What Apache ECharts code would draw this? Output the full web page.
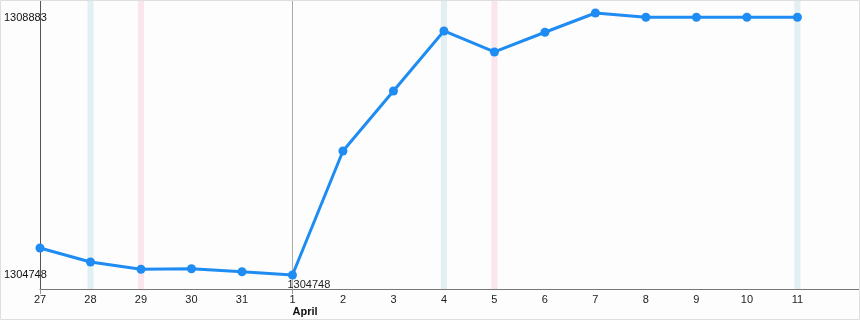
<!DOCTYPE html>
<html>
<head>
<meta charset="utf-8">
<script src="https://cdn.jsdelivr.net/npm/echarts@6/dist/echarts.min.js"></script>
<style>
html,body{margin:0;padding:0;background:#fcfdfc;}
#c{width:860px;height:320px;}
</style>
</head>
<body>
<div id="c"></div>
<script>
const categories = ['27','28','29','30','31','1','2','3','4','5','6','7','8','9','10','11'];
const values = [1305174,1304953,1304838,1304847,1304800,1304748,1306705,1307652,1308599,1308268,1308579,1308883,1308815,1308815,1308815,1308815];
const yTickLabels = [1304748, 1308883];
const monthLabel = 'April';
const monthIndex = 5;
const blueBands = [1, 8, 15];
const pinkBands = [2, 9];

const font = 'Liberation Sans, Arial, sans-serif';
const minIdx = values.indexOf(Math.min(...values));
const seriesData = values.map((v, i) => {
  if (i === minIdx) {
    return {value: [i, v], label: {show: true, position: 'bottom', align: 'left', offset: [-5, -5], formatter: String(v), color: '#222', fontSize: 11, fontFamily: font}};
  }
  return [i, v];
});

const bw = 0.06;
const areas = [];
blueBands.forEach(i => areas.push([{xAxis: i - bw, itemStyle: {color: '#e2f0f4'}}, {xAxis: i + bw}]));
pinkBands.forEach(i => areas.push([{xAxis: i - bw, itemStyle: {color: '#fbe5ef'}}, {xAxis: i + bw}]));

const chart = echarts.init(document.getElementById('c'));
chart.setOption({
  animation: false,
  backgroundColor: '#fcfdfc',
  grid: {left: 40, right: 0, top: 0, bottom: 31, outerBoundsMode: 'none', containLabel: false, show: false},
  xAxis: [{
    type: 'value', min: 0, max: 16.24, interval: 1,
    axisLine: {show: true, onZero: false, lineStyle: {color: '#777', width: 1}},
    axisTick: {show: true, customValues: [0, monthIndex], length: 5, lineStyle: {color: '#999'}},
    splitLine: {show: false},
    axisLabel: {
      customValues: categories.map((c, i) => i),
      formatter: v => categories[Math.round(v)] || '',
      color: '#222', fontSize: 11, fontFamily: font, margin: 5
    }
  }, {
    type: 'value', min: 0, max: 16.24, interval: 1, position: 'bottom',
    axisLine: {show: false}, axisTick: {show: false}, splitLine: {show: false},
    axisLabel: {customValues: [monthIndex], formatter: () => monthLabel, align: 'left', margin: 17,
      color: '#111', fontSize: 11, fontWeight: 'bold', fontFamily: font}
  }],
  yAxis: {
    type: 'value', min: 1304527, max: 1309088,
    axisLine: {show: true, lineStyle: {color: '#555', width: 1}},
    axisTick: {show: false},
    splitLine: {show: false},
    axisLabel: {
      customValues: yTickLabels,
      formatter: v => v === yTickLabels[1] ? '{t|' + v + '}' : String(v),
      rich: {t: {padding: [9, 0, 0, 0], color: '#111', fontSize: 11, fontFamily: font}},
      align: 'left', margin: 36, color: '#111', fontSize: 11, fontFamily: font
    }
  },
  graphic: [{
    type: 'rect', shape: {x: 0.5, y: 0.5, width: 859, height: 319},
    style: {fill: null, stroke: '#dedede', lineWidth: 1}, silent: true, z: 100
  }],
  series: [{
    type: 'line',
    data: seriesData,
    symbol: 'circle', symbolSize: 9,
    lineStyle: {color: '#1e8cf2', width: 3},
    itemStyle: {color: '#1e8cf2'},
    markArea: {silent: true, data: areas},
    markLine: {silent: true, symbol: 'none', label: {show: false},
      lineStyle: {color: '#aaa', type: 'solid', width: 1},
      data: [{xAxis: monthIndex}]},
    z: 5
  }]
});
</script>
</body>
</html>
